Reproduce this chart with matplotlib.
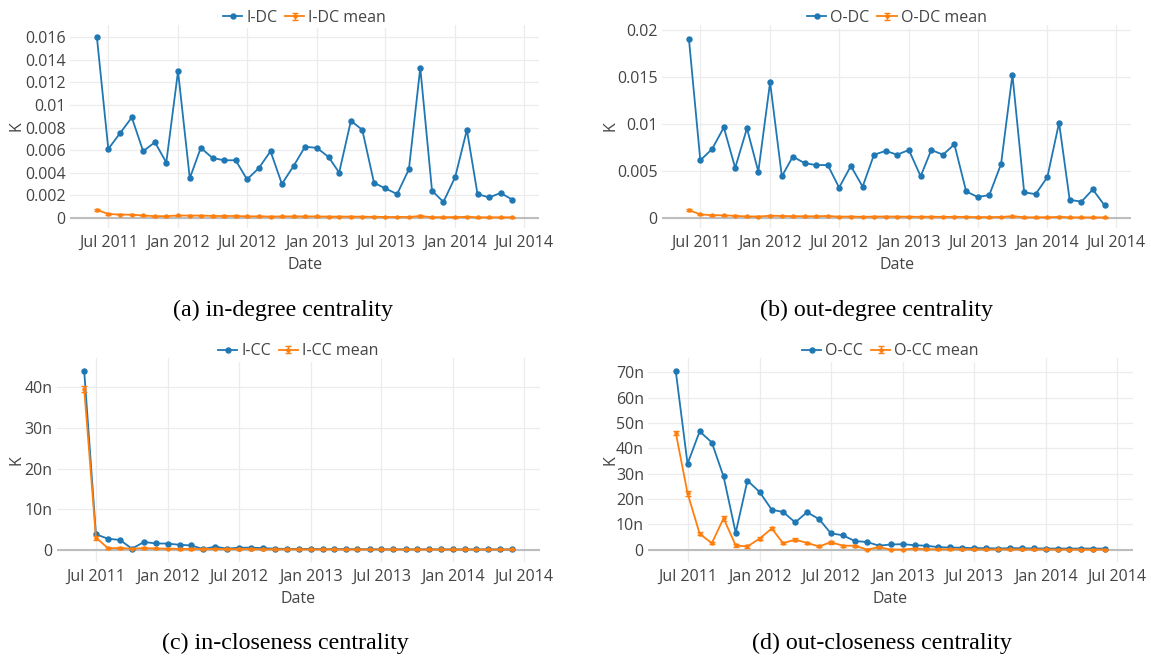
import datetime as dt
import matplotlib
matplotlib.use("Agg")
import matplotlib.pyplot as plt
import matplotlib.dates as mdates
from matplotlib.container import ErrorbarContainer
from matplotlib.legend_handler import HandlerErrorbar
from matplotlib.ticker import FixedLocator, FuncFormatter

# ---------------------------------------------------------------- data
months = [
    "2011-06", "2011-07", "2011-08", "2011-09", "2011-10", "2011-11", "2011-12",
    "2012-01", "2012-02", "2012-03", "2012-04", "2012-05", "2012-06", "2012-07",
    "2012-08", "2012-09", "2012-10", "2012-11", "2012-12", "2013-01", "2013-02",
    "2013-03", "2013-04", "2013-05", "2013-06", "2013-07", "2013-08", "2013-09",
    "2013-10", "2013-11", "2013-12", "2014-01", "2014-02", "2014-03", "2014-04",
    "2014-05", "2014-06",
]

i_dc = [0.0160, 0.0061, 0.0075, 0.0089, 0.0059, 0.0067, 0.0049, 0.0130, 0.0035,
        0.0062, 0.0053, 0.0051, 0.0051, 0.0034, 0.0044, 0.0059, 0.0030, 0.0046,
        0.0063, 0.0062, 0.0054, 0.0040, 0.0086, 0.0078, 0.0031, 0.0026, 0.0021,
        0.0043, 0.0133, 0.0024, 0.0014, 0.0036, 0.0078, 0.0021, 0.0018, 0.0022,
        0.0016]
i_dc_mean = [0.00070, 0.00033, 0.00028, 0.00027, 0.00020, 0.00014, 0.00014,
             0.00020, 0.00019, 0.00019, 0.00016, 0.00015, 0.00016, 0.00012,
             0.00013, 0.00010, 0.00012, 0.00012, 0.00012, 0.00012, 0.00010,
             0.00010, 0.00010, 0.00009, 0.00008, 0.00007, 0.00007, 0.00007,
             0.00015, 0.00005, 0.00005, 0.00006, 0.00008, 0.00004, 0.00004,
             0.00004, 0.00004]
i_dc_err = [0.00012, 0.00006, 0.00006, 0.00006, 0.00005, 0.00005, 0.00005,
            0.00005, 0.00005, 0.00005, 0.00005, 0.00005, 0.00005, 0.00005,
            0.00005, 0.00004, 0.00004, 0.00004, 0.00004, 0.00004, 0.00004,
            0.00004, 0.00004, 0.00004, 0.00004, 0.00004, 0.00004, 0.00004,
            0.00005, 0.00004, 0.00004, 0.00004, 0.00004, 0.00004, 0.00004,
            0.00004, 0.00004]

o_dc = [0.0190, 0.0061, 0.0073, 0.0096, 0.0053, 0.0095, 0.0049, 0.0144, 0.0044,
        0.0065, 0.0058, 0.0056, 0.0056, 0.0032, 0.0055, 0.0033, 0.0067, 0.0071,
        0.0067, 0.0072, 0.0044, 0.0072, 0.0067, 0.0078, 0.0028, 0.0022, 0.0024,
        0.0057, 0.0152, 0.0027, 0.0025, 0.0043, 0.0101, 0.0019, 0.0017, 0.0030,
        0.0013]
o_dc_mean = [0.00080, 0.00035, 0.00026, 0.00025, 0.00019, 0.00013, 0.00012,
             0.00020, 0.00018, 0.00016, 0.00015, 0.00015, 0.00018, 0.00010,
             0.00012, 0.00008, 0.00011, 0.00012, 0.00011, 0.00010, 0.00009,
             0.00010, 0.00008, 0.00009, 0.00008, 0.00006, 0.00006, 0.00007,
             0.00016, 0.00004, 0.00004, 0.00005, 0.00008, 0.00004, 0.00003,
             0.00003, 0.00003]
o_dc_err = [0.00014, 0.00007, 0.00006, 0.00006, 0.00006, 0.00005, 0.00005,
            0.00005, 0.00005, 0.00005, 0.00005, 0.00005, 0.00005, 0.00005,
            0.00005, 0.00005, 0.00005, 0.00005, 0.00005, 0.00005, 0.00005,
            0.00005, 0.00005, 0.00005, 0.00005, 0.00005, 0.00005, 0.00005,
            0.00006, 0.00005, 0.00005, 0.00005, 0.00005, 0.00005, 0.00005,
            0.00005, 0.00005]

# closeness values are in units of 1e-9 ("n")
i_cc_n = [44.0, 3.8, 2.7, 2.4, 0.25, 1.9, 1.55, 1.5, 1.2, 1.05, 0.15, 0.75, 0.25,
          0.5, 0.5, 0.4, 0.25, 0.2, 0.2, 0.2, 0.15, 0.15, 0.15, 0.12, 0.12, 0.1,
          0.1, 0.1, 0.1, 0.1, 0.08, 0.08, 0.08, 0.08, 0.07, 0.07, 0.07]
i_cc_mean_n = [39.6, 3.0, 0.35, 0.4, 0.25, 0.4, 0.3, 0.25, 0.2, 0.2, 0.15, 0.2,
               0.15, 0.15, 0.15, 0.12, 0.1, 0.1, 0.1, 0.08, 0.08, 0.08, 0.07,
               0.07, 0.06, 0.06, 0.06, 0.06, 0.06, 0.05, 0.05, 0.05, 0.05, 0.05,
               0.05, 0.05, 0.05]
i_cc_err_n = [0.65, 0.5, 0.25, 0.25, 0.2, 0.25, 0.2, 0.2, 0.2, 0.2, 0.15, 0.15,
              0.15, 0.15, 0.15, 0.15, 0.15, 0.15, 0.15, 0.15, 0.15, 0.15, 0.15,
              0.15, 0.15, 0.15, 0.15, 0.15, 0.15, 0.15, 0.15, 0.15, 0.15, 0.15,
              0.15, 0.15, 0.15]

o_cc_n = [70.3, 33.9, 46.7, 42.3, 28.9, 6.7, 27.3, 22.8, 15.8, 14.9, 10.8, 14.8,
          12.1, 6.5, 5.7, 3.4, 3.1, 1.6, 2.1, 2.2, 1.8, 1.6, 1.05, 0.9, 0.8, 0.65,
          0.65, 0.5, 0.65, 0.6, 0.55, 0.5, 0.5, 0.5, 0.5, 0.5, 0.45]
o_cc_mean_n = [46.1, 22.3, 6.3, 2.6, 12.4, 1.7, 1.3, 4.4, 8.4, 2.6, 4.0, 2.7, 1.3,
               3.0, 1.6, 1.6, 0.1, 1.0, 0.1, 0.1, 0.5, 0.25, 0.2, 0.2, 0.2, 0.2,
               0.15, 0.15, 0.15, 0.15, 0.15, 0.15, 0.1, 0.1, 0.1, 0.1, 0.1]
o_cc_err_n = [0.8, 1.0, 0.6, 0.5, 0.9, 0.5, 0.5, 0.6, 0.7, 0.5, 0.6, 0.5, 0.4,
              0.6, 0.4, 0.4, 0.3, 0.4, 0.3, 0.3, 0.3, 0.3, 0.3, 0.3, 0.3, 0.3,
              0.3, 0.3, 0.3, 0.3, 0.3, 0.3, 0.3, 0.3, 0.3, 0.3, 0.3]

NANO = 1e-9

# ---------------------------------------------------------------- style
W, H = 1151, 657
BLUE = "#1f77b4"
ORANGE = "#ff7f0e"
TEXT = "#444444"
GRID = "#ececec"
ZERO = "#bdbdbd"
FS = 11.5
plt.rcParams["font.family"] = ["Open Sans", "DejaVu Sans"]

dates = [dt.datetime.strptime(m, "%Y-%m") for m in months]


def box(left, right, top, bottom):
    return [left / W, 1 - bottom / H, (right - left) / W, (bottom - top) / H]


def fmt_plain(v, _):
    if abs(v) < 1e-12:
        return "0"
    return ("%.3f" % v).rstrip("0").rstrip(".")


def fmt_nano(v, _):
    n = round(v / NANO)
    return "0" if n == 0 else "%dn" % n


panels = [
    dict(rect=box(70, 539.3, 25, 228), y=i_dc, mean=i_dc_mean, err=i_dc_err,
         name="I-DC", ylim=(-0.00091, 0.0171),
         yticks=[0, 0.002, 0.004, 0.006, 0.008, 0.010, 0.012, 0.014, 0.016],
         fmt=fmt_plain, caption="(a) in-degree centrality", cap_xy=(283, 310)),
    dict(rect=box(662, 1131.5, 25, 228), y=o_dc, mean=o_dc_mean, err=o_dc_err,
         name="O-DC", ylim=(-0.0011, 0.0205),
         yticks=[0, 0.005, 0.010, 0.015, 0.020],
         fmt=fmt_plain, caption="(b) out-degree centrality", cap_xy=(877, 310)),
    dict(rect=box(56.5, 539.8, 358.3, 561.7), y=[v * NANO for v in i_cc_n],
         mean=[v * NANO for v in i_cc_mean_n], err=[v * NANO for v in i_cc_err_n],
         name="I-CC", ylim=(-2.96 * NANO, 47.2 * NANO),
         yticks=[v * NANO for v in (0, 10, 20, 30, 40)],
         fmt=fmt_nano, caption="(c) in-closeness centrality", cap_xy=(285, 643)),
    dict(rect=box(648, 1132.7, 358.3, 561.7), y=[v * NANO for v in o_cc_n],
         mean=[v * NANO for v in o_cc_mean_n], err=[v * NANO for v in o_cc_err_n],
         name="O-CC", ylim=(-4.7 * NANO, 75.5 * NANO),
         yticks=[v * NANO for v in (0, 10, 20, 30, 40, 50, 60, 70)],
         fmt=fmt_nano, caption="(d) out-closeness centrality", cap_xy=(882, 643)),
]

fig = plt.figure(figsize=(W / 100, H / 100), dpi=100)
pad = dt.timedelta(days=71)

for p in panels:
    ax = fig.add_axes(p["rect"])
    ax.set_facecolor("white")
    l_pts, = ax.plot(dates, p["y"], color=BLUE, lw=1.3, marker="o", ms=3.6,
                     zorder=3, label=p["name"])
    l_mean = ax.errorbar(dates, p["mean"], yerr=p["err"], color=ORANGE, lw=1.3,
                         marker="o", ms=2.2, capsize=2, elinewidth=1.0,
                         capthick=1.0, zorder=4, label=p["name"] + " mean")
    ax.axhline(0, color=ZERO, lw=1.5, zorder=2)

    ax.set_xlim(dates[0] - pad, dates[-1] + pad)
    ax.set_ylim(*p["ylim"])
    ax.xaxis.set_major_locator(mdates.MonthLocator(bymonth=[1, 7]))
    ax.xaxis.set_major_formatter(mdates.DateFormatter("%b %Y"))
    ax.yaxis.set_major_locator(FixedLocator(p["yticks"]))
    ax.yaxis.set_major_formatter(FuncFormatter(p["fmt"]))
    ax.grid(True, color=GRID, lw=0.9, zorder=0)
    ax.set_axisbelow(True)
    for s in ax.spines.values():
        s.set_visible(False)
    ax.tick_params(length=0, labelsize=FS, labelcolor=TEXT)
    ax.tick_params(axis="x", pad=5)
    ax.tick_params(axis="y", pad=3)

    ax.set_xlabel("Date", fontsize=FS, color=TEXT)
    ax.xaxis.label.set_va("center")
    ax.xaxis.set_label_coords(0.5, -37 / 203)
    ax.set_ylabel("K", fontsize=FS, color=TEXT)
    ax.yaxis.label.set_va("center")
    left_px = p["rect"][0] * W
    width_px = p["rect"][2] * W
    k_x = 16.5 if left_px < 500 else 611
    ax.yaxis.set_label_coords((k_x - left_px) / width_px, 0.5)

    leg = ax.legend(handles=[l_pts, l_mean], loc="center",
                    bbox_to_anchor=(0.5, 1.035), ncol=2, frameon=True,
                    fontsize=FS, handlelength=1.2, handletextpad=0.25,
                    columnspacing=0.5, borderpad=0.15, labelcolor=TEXT,
                    handler_map={ErrorbarContainer: HandlerErrorbar(yerr_size=0.22)})
    leg.get_frame().set_facecolor("white")
    leg.get_frame().set_edgecolor("none")
    leg.get_frame().set_alpha(1)
    leg.set_zorder(10)

    fig.text(p["cap_xy"][0] / W, 1 - p["cap_xy"][1] / H, p["caption"],
             family=["Liberation Serif", "DejaVu Serif"], fontsize=17.3,
             ha="center", va="center", color="black")

fig.savefig("out.png", dpi=100, facecolor="white")
